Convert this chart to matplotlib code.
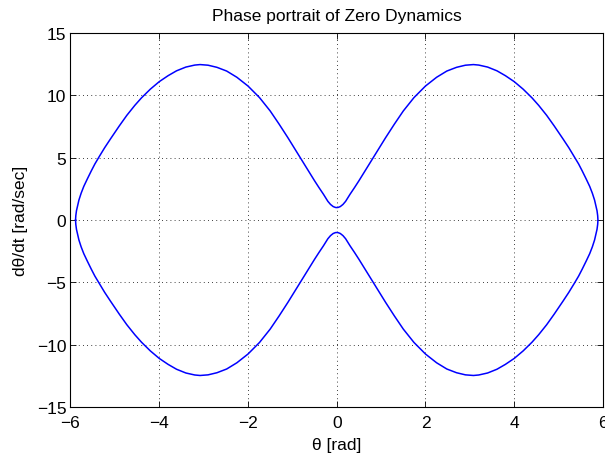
import numpy as np
import matplotlib
matplotlib.use("Agg")
import matplotlib.pyplot as plt

# upper branch, left half; the portrait is symmetric
theta_half = np.array([-5.886, -5.88, -5.865, -5.84, -5.81, -5.76, -5.70, -5.62,
                       -5.53, -5.45, -5.35, -5.23, -5.10, -4.90, -4.73, -4.55,
                       -4.40, -4.20, -4.00, -3.80, -3.61, -3.40, -3.20, -3.08,
                       -2.90, -2.70, -2.48, -2.25, -2.00, -1.74, -1.50, -1.30,
                       -1.10, -0.90, -0.70, -0.50, -0.40, -0.30, -0.20, -0.14,
                       -0.08, -0.03, 0.0])
omega_half = np.array([0.0, 0.35, 0.75, 1.15, 1.6, 2.15, 2.7, 3.3,
                       3.95, 4.5, 5.1, 5.8, 6.5, 7.55, 8.4, 9.2,
                       9.8, 10.5, 11.1, 11.58, 11.97, 12.27, 12.43, 12.47,
                       12.42, 12.25, 11.95, 11.45, 10.75, 9.82, 8.75, 7.7,
                       6.6, 5.45, 4.3, 3.15, 2.6, 2.07, 1.5, 1.25,
                       1.08, 1.01, 1.0])

xticks = [-6, -4, -2, 0, 2, 4, 6]
yticks = [-15, -10, -5, 0, 5, 10, 15]

# full closed loop: upper branch left->right, lower branch right->left
theta_up = np.concatenate([theta_half, -theta_half[-2::-1]])
omega_up = np.concatenate([omega_half, omega_half[-2::-1]])
theta = np.concatenate([theta_up, theta_up[::-1]])
omega = np.concatenate([omega_up, -omega_up[::-1]])

plt.rcParams['font.family'] = ['Liberation Sans', 'DejaVu Sans']
plt.rcParams['font.size'] = 12.5

fig = plt.figure(figsize=(6.05, 4.6), dpi=100)
ax = fig.add_axes([0.1165, 0.113, 0.8802, 0.813])
ax.plot(theta, omega, color=(0, 0, 1), lw=1.1)

ax.set_xlim(-6, 6)
ax.set_ylim(-15, 15)
ax.set_xticks(xticks)
ax.set_yticks(yticks)
ax.set_xticklabels([str(t).replace('-', '\u2212') for t in xticks])
ax.set_yticklabels([str(t).replace('-', '\u2212') for t in yticks])
ax.tick_params(direction='in', top=True, right=True, length=4, width=0.6,
               labelsize=12.5)
ax.tick_params(axis='x', pad=6)
ax.tick_params(axis='y', pad=3)
ax.grid(True, color='black', linestyle=(0, (1, 4)), lw=0.6)
for s in ax.spines.values():
    s.set_linewidth(0.8)

ax.set_title('Phase portrait of Zero Dynamics', fontsize=12.5, pad=9.5)
ax.set_xlabel('\u03b8 [rad]', labelpad=5)
ax.set_ylabel('d\u03b8/dt [rad/sec]', labelpad=6)

fig.savefig('out.png', dpi=100)
